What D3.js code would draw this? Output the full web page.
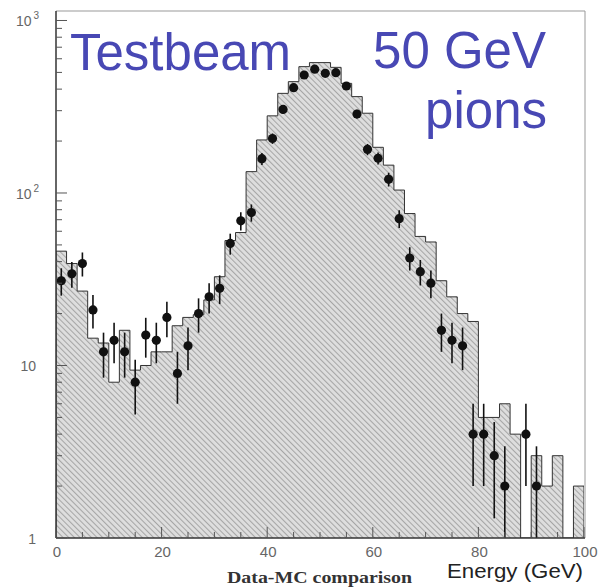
<!DOCTYPE html>
<html><head><meta charset="utf-8">
<script src="https://cdn.jsdelivr.net/npm/d3@7"></script>
<style>body{margin:0;background:#fff}</style>
</head><body>
<svg id="c" width="598" height="588"></svg>
<script>
// ---- data ----
const binLow = [0,2,4,6,8,10,12,14,16,18,20,22,24,26,28,30,32,34,36,38,40,42,44,46,48,
                50,52,54,56,58,60,62,64,66,68,70,72,74,76,78,80,82,84,86,88,90,92,94,96,98];
const binWidth = 2;
const mcCounts = [46,39,27,14.4,13.5,8,16,9.4,10,12,12,17,19,19.7,24,32.7,53,59,133,203,
                  280,378,442,540,570,570,535,432,362,290,184,145,104,76,56,52,31,25,20,18,
                  5,5,6,4,0,3,2,3,0,2];
const dataCounts = [31,34,39,21,12,14,12,8,15,14,19,9,13,20,25,28,51,69,77,158,
                    207,305,408,483,522,494,498,417,287,179,159,120,71,42,35,30,16,14,13,4,
                    4,3,2,0,4,2,0,0,0,0];
const dataErrors = [5.6,5.8,6.2,4.6,3.5,3.7,3.5,2.8,3.9,3.7,4.4,3.0,3.6,4.5,5.0,5.3,7.1,8.3,8.8,12.6,
                    14.4,17.5,20.2,22.0,22.8,22.2,22.3,20.4,16.9,13.4,12.6,11.0,8.4,6.5,5.9,5.5,4.0,3.7,3.6,2.0,
                    2.0,1.7,1.4,0,2.0,1.4,0,0,0,0];
const xTickValues = [0,20,40,60,80,100];
const xTickLabels = ["0","20","40","60","80","100"];
const yTickValues = [1,10,100,1000];
const yLabelBase = ["1","10","10","10"];
const yLabelExp = ["","","2","3"];

// ---- layout ----
const svg = d3.select("#c");
const L = 56, R = 584, T = 11, B = 538;
const x = d3.scaleLinear().domain([0,100]).range([L,R]);
const y = d3.scaleLog().domain([1,1135]).range([B,T]);

const defs = svg.append("defs");
const pat = defs.append("pattern").attr("id","hatch").attr("patternUnits","userSpaceOnUse")
  .attr("width",4).attr("height",4).attr("patternTransform","rotate(-45)");
pat.append("rect").attr("width",4).attr("height",4).attr("fill","#dedede");
pat.append("line").attr("x1",0.5).attr("y1",0).attr("x2",0.5).attr("y2",4)
  .attr("stroke","#a6a6a6").attr("stroke-width",1.1);
defs.append("clipPath").attr("id","plot").append("rect")
  .attr("x",L).attr("y",T).attr("width",R-L).attr("height",B-T);

// ---- histogram ----
const pts = [[x(0), B]];
binLow.forEach((lo,i) => {
  const v = mcCounts[i];
  const yy = v >= 1 ? y(v) : B;
  pts.push([x(lo), yy]);
  pts.push([x(lo+binWidth), yy]);
});
pts.push([x(100), B]);
const line = d3.line();
const g = svg.append("g").attr("clip-path","url(#plot)");
g.append("path").attr("d", line(pts) + "Z").attr("fill","url(#hatch)").attr("stroke","none");
g.append("path").attr("d", line(pts)).attr("fill","none").attr("stroke","#333").attr("stroke-width",1);

// ---- data points ----
const dp = binLow.map((lo,i)=>({c: lo+binWidth/2, v: dataCounts[i], e: dataErrors[i]})).filter(d=>d.v>0);
g.selectAll("line.err").data(dp).enter().append("line")
  .attr("x1",d=>x(d.c)).attr("x2",d=>x(d.c))
  .attr("y1",d=>y(d.v+d.e))
  .attr("y2",d=> (d.v-d.e) >= 1 ? y(d.v-d.e) : B+2)
  .attr("stroke","#111").attr("stroke-width",1.6);
g.selectAll("circle.pt").data(dp).enter().append("circle")
  .attr("cx",d=>x(d.c)).attr("cy",d=>y(d.v)).attr("r",4.6).attr("fill","#111");

// ---- frame & axes ----
svg.append("line").attr("x1",L).attr("x2",R+1).attr("y1",T).attr("y2",T).attr("stroke","#999").attr("stroke-width",1);
svg.append("line").attr("x1",R+1).attr("x2",R+1).attr("y1",T).attr("y2",B).attr("stroke","#999").attr("stroke-width",1);
svg.append("line").attr("x1",L).attr("x2",L).attr("y1",T).attr("y2",B).attr("stroke","#333").attr("stroke-width",1.5);
svg.append("line").attr("x1",L).attr("x2",R+1).attr("y1",B).attr("y2",B).attr("stroke","#333").attr("stroke-width",1.5);

// y ticks
const yMinor = [];
[1,10,100,1000].forEach(d => { for (let k=2;k<=9;k++){ const v=d*k; if (v<=1135) yMinor.push(v);} });
svg.selectAll("line.ymin").data(yMinor).enter().append("line")
  .attr("x1",L).attr("x2",L+6).attr("y1",d=>y(d)).attr("y2",d=>y(d)).attr("stroke","#555");
svg.selectAll("line.ymaj").data(yTickValues).enter().append("line")
  .attr("x1",L).attr("x2",L+11).attr("y1",d=>y(d)).attr("y2",d=>y(d)).attr("stroke","#555");
yTickValues.forEach((v,i) => {
  const t = svg.append("text").attr("y", y(v)+6).attr("font-family","Liberation Sans, Arial, sans-serif")
    .attr("font-size",14).attr("fill","#666");
  if (yLabelExp[i]) {
    t.attr("x",16);
    t.append("tspan").text(yLabelBase[i]);
    t.append("tspan").attr("dy",-7).attr("dx",2).attr("font-size",10).text(yLabelExp[i]);
  } else {
    t.attr("x",36).attr("text-anchor","end").text(yLabelBase[i]);
  }
});

// x ticks
const xMinor = d3.range(0,101,5);
svg.selectAll("line.xt").data(xMinor).enter().append("line")
  .attr("x1",d=>x(d)).attr("x2",d=>x(d)).attr("y1",B).attr("y2",d=> d%20===0 ? B-11 : B-6)
  .attr("stroke","#555");
svg.selectAll("text.xl").data(xTickValues).enter().append("text")
  .attr("x",d=>x(d)+1).attr("y",557).attr("text-anchor","middle")
  .attr("font-family","Liberation Sans, Arial, sans-serif").attr("font-size",15).attr("fill","#666")
  .text((d,i)=>xTickLabels[i]);

// axis titles
svg.append("text").attr("x",227).attr("y",583).attr("font-family","Liberation Serif, Times New Roman, serif")
  .attr("font-weight","bold").attr("font-size",17).attr("fill","#333")
  .attr("textLength",185).attr("lengthAdjust","spacingAndGlyphs").text("Data-MC comparison");
svg.append("text").attr("x",447).attr("y",578).attr("font-family","Liberation Sans, Arial, sans-serif")
  .attr("font-size",20).attr("fill","#222")
  .attr("textLength",136).attr("lengthAdjust","spacingAndGlyphs").text("Energy (GeV)");

// labels
const blue = "#4848b4";
svg.append("text").attr("x",70).attr("y",70).attr("font-family","Liberation Sans, Arial, sans-serif")
  .attr("font-size",51).attr("fill",blue).text("Testbeam");
svg.append("text").attr("x",546).attr("y",68).attr("text-anchor","end").attr("font-family","Liberation Sans, Arial, sans-serif")
  .attr("font-size",51).attr("fill",blue).text("50 GeV");
svg.append("text").attr("x",547).attr("y",128).attr("text-anchor","end").attr("font-family","Liberation Sans, Arial, sans-serif")
  .attr("font-size",51).attr("fill",blue).text("pions");
</script>
</body></html>
